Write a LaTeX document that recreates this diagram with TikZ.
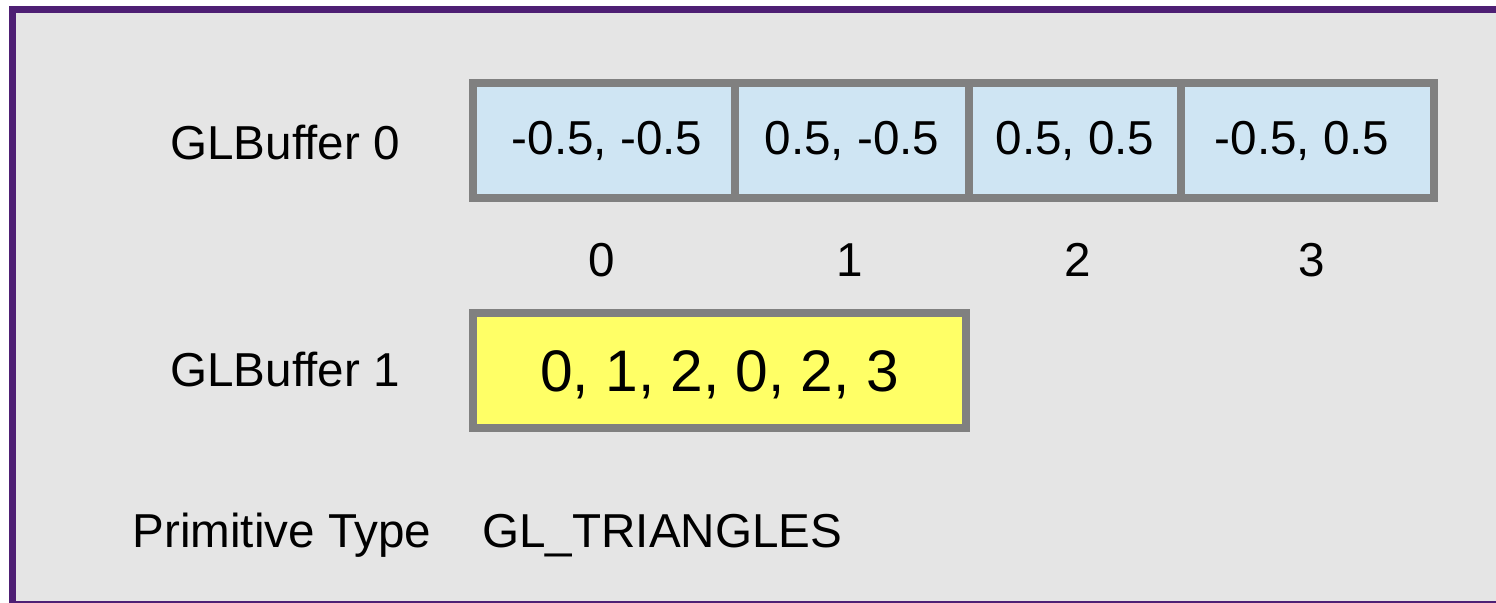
\documentclass[tikz,border=0pt]{standalone}
\usepackage{fontspec}
\setmainfont{Liberation Sans}
\definecolor{framepurple}{HTML}{4E1F74}
\definecolor{bggray}{HTML}{E5E5E5}
\definecolor{cellblue}{HTML}{CFE5F3}
\definecolor{cellyellow}{HTML}{FFFF66}
\definecolor{bordergray}{HTML}{808080}
\begin{document}
\begin{tikzpicture}[x=0.5pt,y=-0.5pt,
  cellbox/.style={draw=bordergray,line width=4pt,fill=cellblue},
  yellowbox/.style={draw=bordergray,line width=4pt,fill=cellyellow},
  lbl/.style={font=\fontsize{23.8}{28}\selectfont,inner sep=0pt},
  big/.style={font=\fontsize{29.3}{34}\selectfont,inner sep=0pt}]
\useasboundingbox (0,0) rectangle (1496,603);
\fill[white] (0,0) rectangle (1496,603);
\fill[framepurple] (9,6) rectangle (1496,603);
\fill[bggray] (16,13) rectangle (1496,601);
% top buffer cells
\draw[cellbox] (473,83) rectangle (735,198);
\draw[cellbox] (735,83) rectangle (969,198);
\draw[cellbox] (969,83) rectangle (1181,198);
\draw[cellbox] (1181,83) rectangle (1433.5,198);
\node[lbl,anchor=base] (c0) at (607,155) {-0.5, -0.5};
\node[lbl,anchor=base] (c1) at (852,155) {0.5, -0.5};
\node[lbl,anchor=base] (c2) at (1075,155) {0.5, 0.5};
\node[lbl,anchor=base] (c3) at (1302,155) {-0.5, 0.5};
% indices
\node[lbl,anchor=base] (i0) at (602,277) {0};
\node[lbl,anchor=base] (i1) at (850,277) {1};
\node[lbl,anchor=base] (i2) at (1078,277) {2};
\node[lbl,anchor=base] (i3) at (1312,277) {3};
% labels
\node[lbl,anchor=base west] (b0) at (170,160) {GLBuffer 0};
\node[lbl,anchor=base west] (b1) at (170,387) {GLBuffer 1};
% yellow buffer
\draw[yellowbox] (473,313.5) rectangle (966,428);
\node[big,anchor=base] (y) at (719.5,392) {0, 1, 2, 0, 2, 3};
% primitive
\node[lbl,anchor=base west] (pt) at (132,548) {Primitive Type};
\node[lbl,anchor=base west] (gt) at (482,548) {GL\_TRIANGLES};
\end{tikzpicture}
\end{document}
